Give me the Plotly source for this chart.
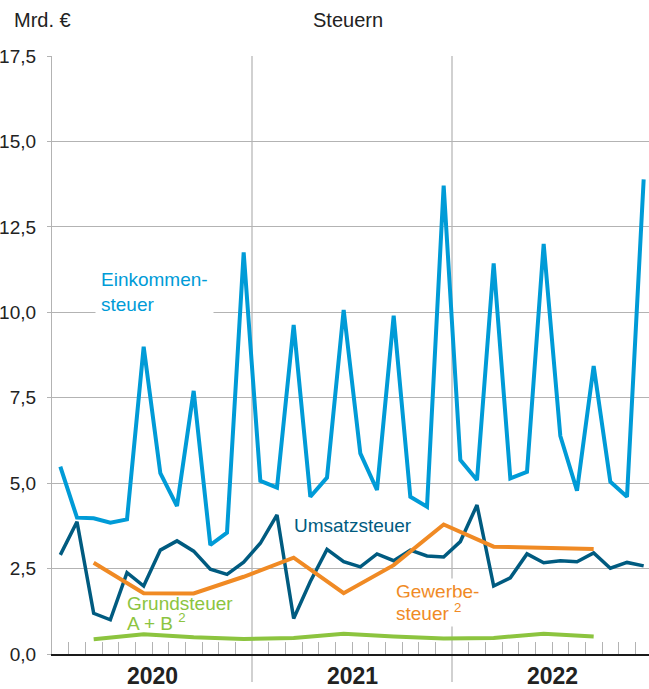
import plotly.graph_objects as go

# ---- data (Mrd. €) ----
months = list(range(36))  # Jan 2020 .. Dec 2022
years = ["2020", "2021", "2022"]

einkommensteuer = [5.48, 3.99, 3.97, 3.84, 3.94, 8.99, 5.29, 4.33, 7.70, 3.19, 3.55, 11.75,
                   5.07, 4.87, 9.63, 4.60, 5.16, 10.07, 5.87, 4.80, 9.90, 4.60, 4.31, 13.71,
                   5.68, 5.09, 11.43, 5.14, 5.33, 12.00, 6.38, 4.78, 8.43, 5.04, 4.60, 13.89]

umsatzsteuer = [2.90, 3.87, 1.19, 1.00, 2.38, 1.99, 3.04, 3.31, 3.01, 2.48, 2.33, 2.69,
                3.24, 4.07, 1.04, 2.12, 3.06, 2.70, 2.55, 2.93, 2.73, 3.04, 2.87, 2.84,
                3.29, 4.36, 1.99, 2.23, 2.93, 2.67, 2.73, 2.70, 2.96, 2.51, 2.68, 2.58]

quarter_months = [2, 5, 8, 11, 14, 17, 20, 23, 26, 29, 32]
gewerbesteuer = [2.67, 1.78, 1.77, 2.26, 2.82, 1.78, 2.60, 3.79, 3.14, 3.11, 3.07]
grundsteuer = [0.43, 0.58, 0.49, 0.44, 0.47, 0.59, 0.51, 0.45, 0.47, 0.59, 0.51]

y_ticks = [0, 2.5, 5, 7.5, 10, 12.5, 15, 17.5]

# ---- styles ----
C_EST = "#009bd7"
C_UST = "#005b80"
C_GEW = "#f08a24"
C_GRU = "#8cc43f"
GRID = "#b3b3b3"
TXT = "#222222"
FONT = "Liberation Sans"

W, H = 649, 689
ML, MR, MT, MB = 52, 0, 56, 35
x_range = [-0.5, 35.32]

fig = go.Figure()
fig.add_trace(go.Scatter(x=months, y=einkommensteuer, mode="lines",
                         line=dict(color=C_EST, width=4), hoverinfo="skip"))
fig.add_trace(go.Scatter(x=months, y=umsatzsteuer, mode="lines",
                         line=dict(color=C_UST, width=3.5), hoverinfo="skip"))
fig.add_trace(go.Scatter(x=quarter_months, y=gewerbesteuer, mode="lines",
                         line=dict(color=C_GEW, width=4), hoverinfo="skip"))
fig.add_trace(go.Scatter(x=quarter_months, y=grundsteuer, mode="lines",
                         line=dict(color=C_GRU, width=4), hoverinfo="skip"))

# year separators (extend below axis)
span = x_range[1] - x_range[0]
for k in (1, 2):
    xb = 12 * k - 0.5
    xp = (xb - x_range[0]) / span
    fig.add_shape(type="line", xref="paper", yref="paper", x0=xp, x1=xp, y0=-0.047, y1=1,
                  line=dict(color=GRID, width=1.2), layer="below")

# year labels
for i, yr in enumerate(years):
    fig.add_annotation(x=12 * i + 5.5, y=0, xref="x", yref="paper", yshift=-22,
                       yanchor="middle", xanchor="center",
                       text="<b>%s</b>" % yr, showarrow=False,
                       font=dict(family=FONT, size=23, color=TXT))

# series labels
fig.add_annotation(x=2.08, y=10.59, xanchor="left", yanchor="middle", align="left",
                   text="Einkommen-<br>steuer", showarrow=False, bgcolor="white",
                   borderpad=5, font=dict(family=FONT, size=19, color=C_EST))
fig.add_annotation(x=13.9, y=3.75, xanchor="left", yanchor="middle", align="left",
                   text="Umsatzsteuer", showarrow=False,
                   font=dict(family=FONT, size=19, color=C_UST))
for txt, yv in (("Gewerbe-", 1.84), ("steuer <sup>2</sup>", 1.24)):
    fig.add_annotation(x=19.96, y=yv, xanchor="left", yanchor="middle", align="left",
                       text=txt, showarrow=False, bgcolor="white", borderpad=2,
                       font=dict(family=FONT, size=19, color=C_GEW))
for txt, yv in (("Grundsteuer", 1.49), ("A + B <sup>2</sup>", 0.93)):
    fig.add_annotation(x=3.88, y=yv, xanchor="left", yanchor="middle", align="left",
                       text=txt, showarrow=False,
                       font=dict(family=FONT, size=19, color=C_GRU))

# header texts
pw = W - ML - MR
fig.add_annotation(x=(12 - ML) / pw, y=1, xref="paper", yref="paper", text="Mrd. €",
                   showarrow=False, xanchor="left", yanchor="middle", yshift=36,
                   font=dict(family=FONT, size=20, color=TXT))
fig.add_annotation(x=(348 - ML) / pw, y=1, xref="paper", yref="paper", text="Steuern",
                   showarrow=False, xanchor="center", yanchor="middle", yshift=36,
                   font=dict(family=FONT, size=20, color=TXT))

fig.update_layout(
    width=W, height=H,
    margin=dict(l=ML, r=MR, t=MT, b=MB, autoexpand=False),
    paper_bgcolor="white", plot_bgcolor="white",
    showlegend=False, separators=",.",
    font=dict(family=FONT, color=TXT),
    xaxis=dict(range=x_range, tickvals=[i - 0.5 for i in range(1, 36) if i % 12 != 0],
               ticks="inside", ticklen=12, tickcolor=GRID, tickwidth=1,
               showticklabels=False, showgrid=False, zeroline=False,
               showline=True, linecolor="#1a1a1a", linewidth=2, fixedrange=True),
    yaxis=dict(range=[0, 17.5], tickvals=y_ticks, tickformat=".1f",
               ticks="outside", ticklen=4, tickcolor=GRID,
               tickfont=dict(family=FONT, size=19, color=TXT), ticklabelstandoff=7,
               showgrid=True, gridcolor=GRID, gridwidth=1.2, zeroline=False,
               showline=True, linecolor=GRID, linewidth=1.2, fixedrange=True),
)

fig.write_html("out.html", config={"displayModeBar": False},
               post_script="document.body.style.margin='0';")
